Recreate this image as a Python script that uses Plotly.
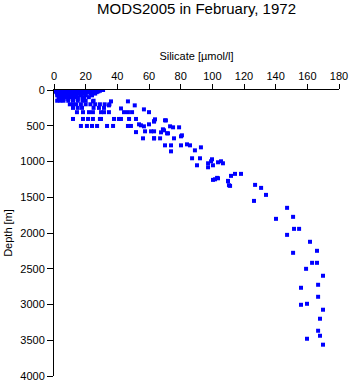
import plotly.graph_objects as go

# Surface standard levels: depth [m] and silicate [umol/l]
surf_depth = ([0]*19 + [10]*16 + [20]*15 + [30]*14 + [50]*13 + [75]*10 + [100]*9 + [125]*6 + [150]*9)
surf_si = [0.5, 1.5, 2.5, 3.5, 5, 6, 7.5, 9, 10, 11.5, 13, 14, 15.5, 17, 19, 21, 24, 27, 31,
           1, 2, 3, 4.5, 6, 8, 9.5, 11, 12.5, 14, 16, 18, 20, 23, 26, 29,
           1, 2.5, 4, 5.5, 7, 8.5, 10, 12, 13.5, 15, 17, 19, 22, 25, 28,
           1.5, 3, 4.5, 6, 7.5, 9, 11, 13, 15, 17, 19, 21, 24, 27,
           2, 3.5, 5, 6.5, 8, 10, 12, 14, 16, 18, 20, 23, 26,
           2, 4, 6, 8, 10, 12, 14, 17, 20, 24,
           3, 5, 7, 9, 11, 13, 15, 18, 22,
           3, 6, 9, 12, 15, 19,
           2, 4, 6, 9, 12, 15, 18, 20, 25]

# Intermediate levels (150-700 m)
mid_depth = [159, 159, 159, 215, 215, 200, 200, 200, 200, 200, 200, 200, 200, 200, 200,
             250, 250, 250, 250, 250, 250, 258, 271,
             310, 310, 310, 310, 310, 310, 310, 310, 310, 310, 310,
             405, 405, 405, 405, 405, 405, 405, 405, 405, 405, 405, 410, 440, 424,
             503, 503, 503, 503, 503, 503, 503, 503, 480, 494, 480, 508, 522, 508,
             589, 578, 578, 578, 550, 564, 592, 606, 606, 522, 438, 425]
mid_si = [24.6, 36, 46.7, 34.7, 51, 10, 12, 14, 17, 20, 23, 26, 29, 32, 35,
          12, 15, 17.7, 25, 28.4, 31.6, 42.3, 56.8,
          14.5, 18.3, 22.1, 24.6, 29.7, 31.6, 34.7, 44.2, 46.7, 49.3, 60,
          12, 18.3, 21.5, 24.6, 29, 29.7, 37.9, 41, 42.3, 47.4, 51.8, 63.8, 63.2, 70.1,
          17, 20.8, 24, 27.2, 33.5, 37.3, 46.7, 48.6, 53.7, 54.9, 60, 56.8, 75.2, 73.3,
          51.8, 57.5, 61.3, 63.2, 68.8, 69.5, 67.6, 72, 71.4, 79, 63.2, 70.7]

# Deeper levels (650-1400 m)
dp_depth = [676, 676, 676, 676, 676, 634, 648, 774, 774, 858, 774, 760, 774, 844, 802,
            955, 955, 1053, 969, 997, 1025, 1081, 1053, 1011, 997, 1025,
            1249, 1235, 1277, 1332, 1229, 1201, 1173, 1173]
dp_si = [56.2, 63.2, 67, 75.8, 63.2, 80.8, 80.2, 70.1, 73.9, 73.9, 80.2, 84, 85.9, 89, 92.8,
         87.2, 92.2, 90.3, 99.8, 99.2, 97.3, 97.3, 100.4, 103.6, 105.5, 106.7,
         101.7, 103.6, 109.9, 110.5, 103, 111.8, 114.3, 118.1]

# Abyssal levels (1250-3600 m)
ab_depth = [1257, 1271, 1341, 1327, 1369, 1467, 1551, 1648, 1774, 1802, 1942, 1942, 2026,
            2123, 2249, 2277, 2417, 2417, 2501, 2598, 2724, 2766, 2892, 3004, 2990, 3073,
            3199, 3367, 3437, 3479, 3562]
ab_si = [100.4, 109.9, 111.2, 127, 130.8, 133.9, 126.3, 147.2, 151, 140.2, 151.6, 154.8, 147.2,
         161.7, 166.1, 151, 163, 166.1, 159.2, 169.9, 166.8, 156, 166.8, 156, 159.8, 169.9,
         168, 166.8, 168, 159.8, 169.9]

x_ticks = [0, 20, 40, 60, 80, 100, 120, 140, 160, 180]
y_ticks = [0, 500, 1000, 1500, 2000, 2500, 3000, 3500, 4000]

depth = surf_depth + mid_depth + dp_depth + ab_depth
si = surf_si + mid_si + dp_si + ab_si

font = "Liberation Sans, Arial, Helvetica, sans-serif"

fig = go.Figure(go.Scatter(
    x=si, y=depth, mode="markers",
    marker=dict(symbol="square", size=4, color="#0000ff", line=dict(width=0)),
    showlegend=False, hoverinfo="skip"))

fig.update_layout(
    width=351, height=384,
    margin=dict(l=54, r=12, t=90, b=8),
    paper_bgcolor="white", plot_bgcolor="white",
    font=dict(family=font, size=11, color="black"),
    title=dict(text="MODS2005 in February, 1972", x=196.5/351, xanchor="center",
               y=1 - 8.5/384, yanchor="middle", font=dict(size=15, family=font, color="black")),
    xaxis=dict(side="top", range=[0, 180], tickvals=x_ticks, ticktext=[str(v) for v in x_ticks],
               ticks="outside", ticklen=5, tickwidth=1, tickcolor="black",
               showline=True, linecolor="black", linewidth=1, mirror=False,
               showgrid=False, zeroline=False, automargin=False,
               title=dict(text="Silicate [µmol/l]", standoff=6, font=dict(size=11)),
               tickfont=dict(size=11)),
    yaxis=dict(range=[4000, 0], tickvals=y_ticks, ticktext=[str(v) for v in y_ticks],
               ticks="outside", ticklen=6, tickwidth=1, tickcolor="black",
               showline=True, linecolor="black", linewidth=1, mirror=False,
               showgrid=False, zeroline=False, automargin=False,
               title=dict(text="Depth [m]", standoff=5, font=dict(size=11)),
               tickfont=dict(size=11)),
)

fig.write_html("out.html")
